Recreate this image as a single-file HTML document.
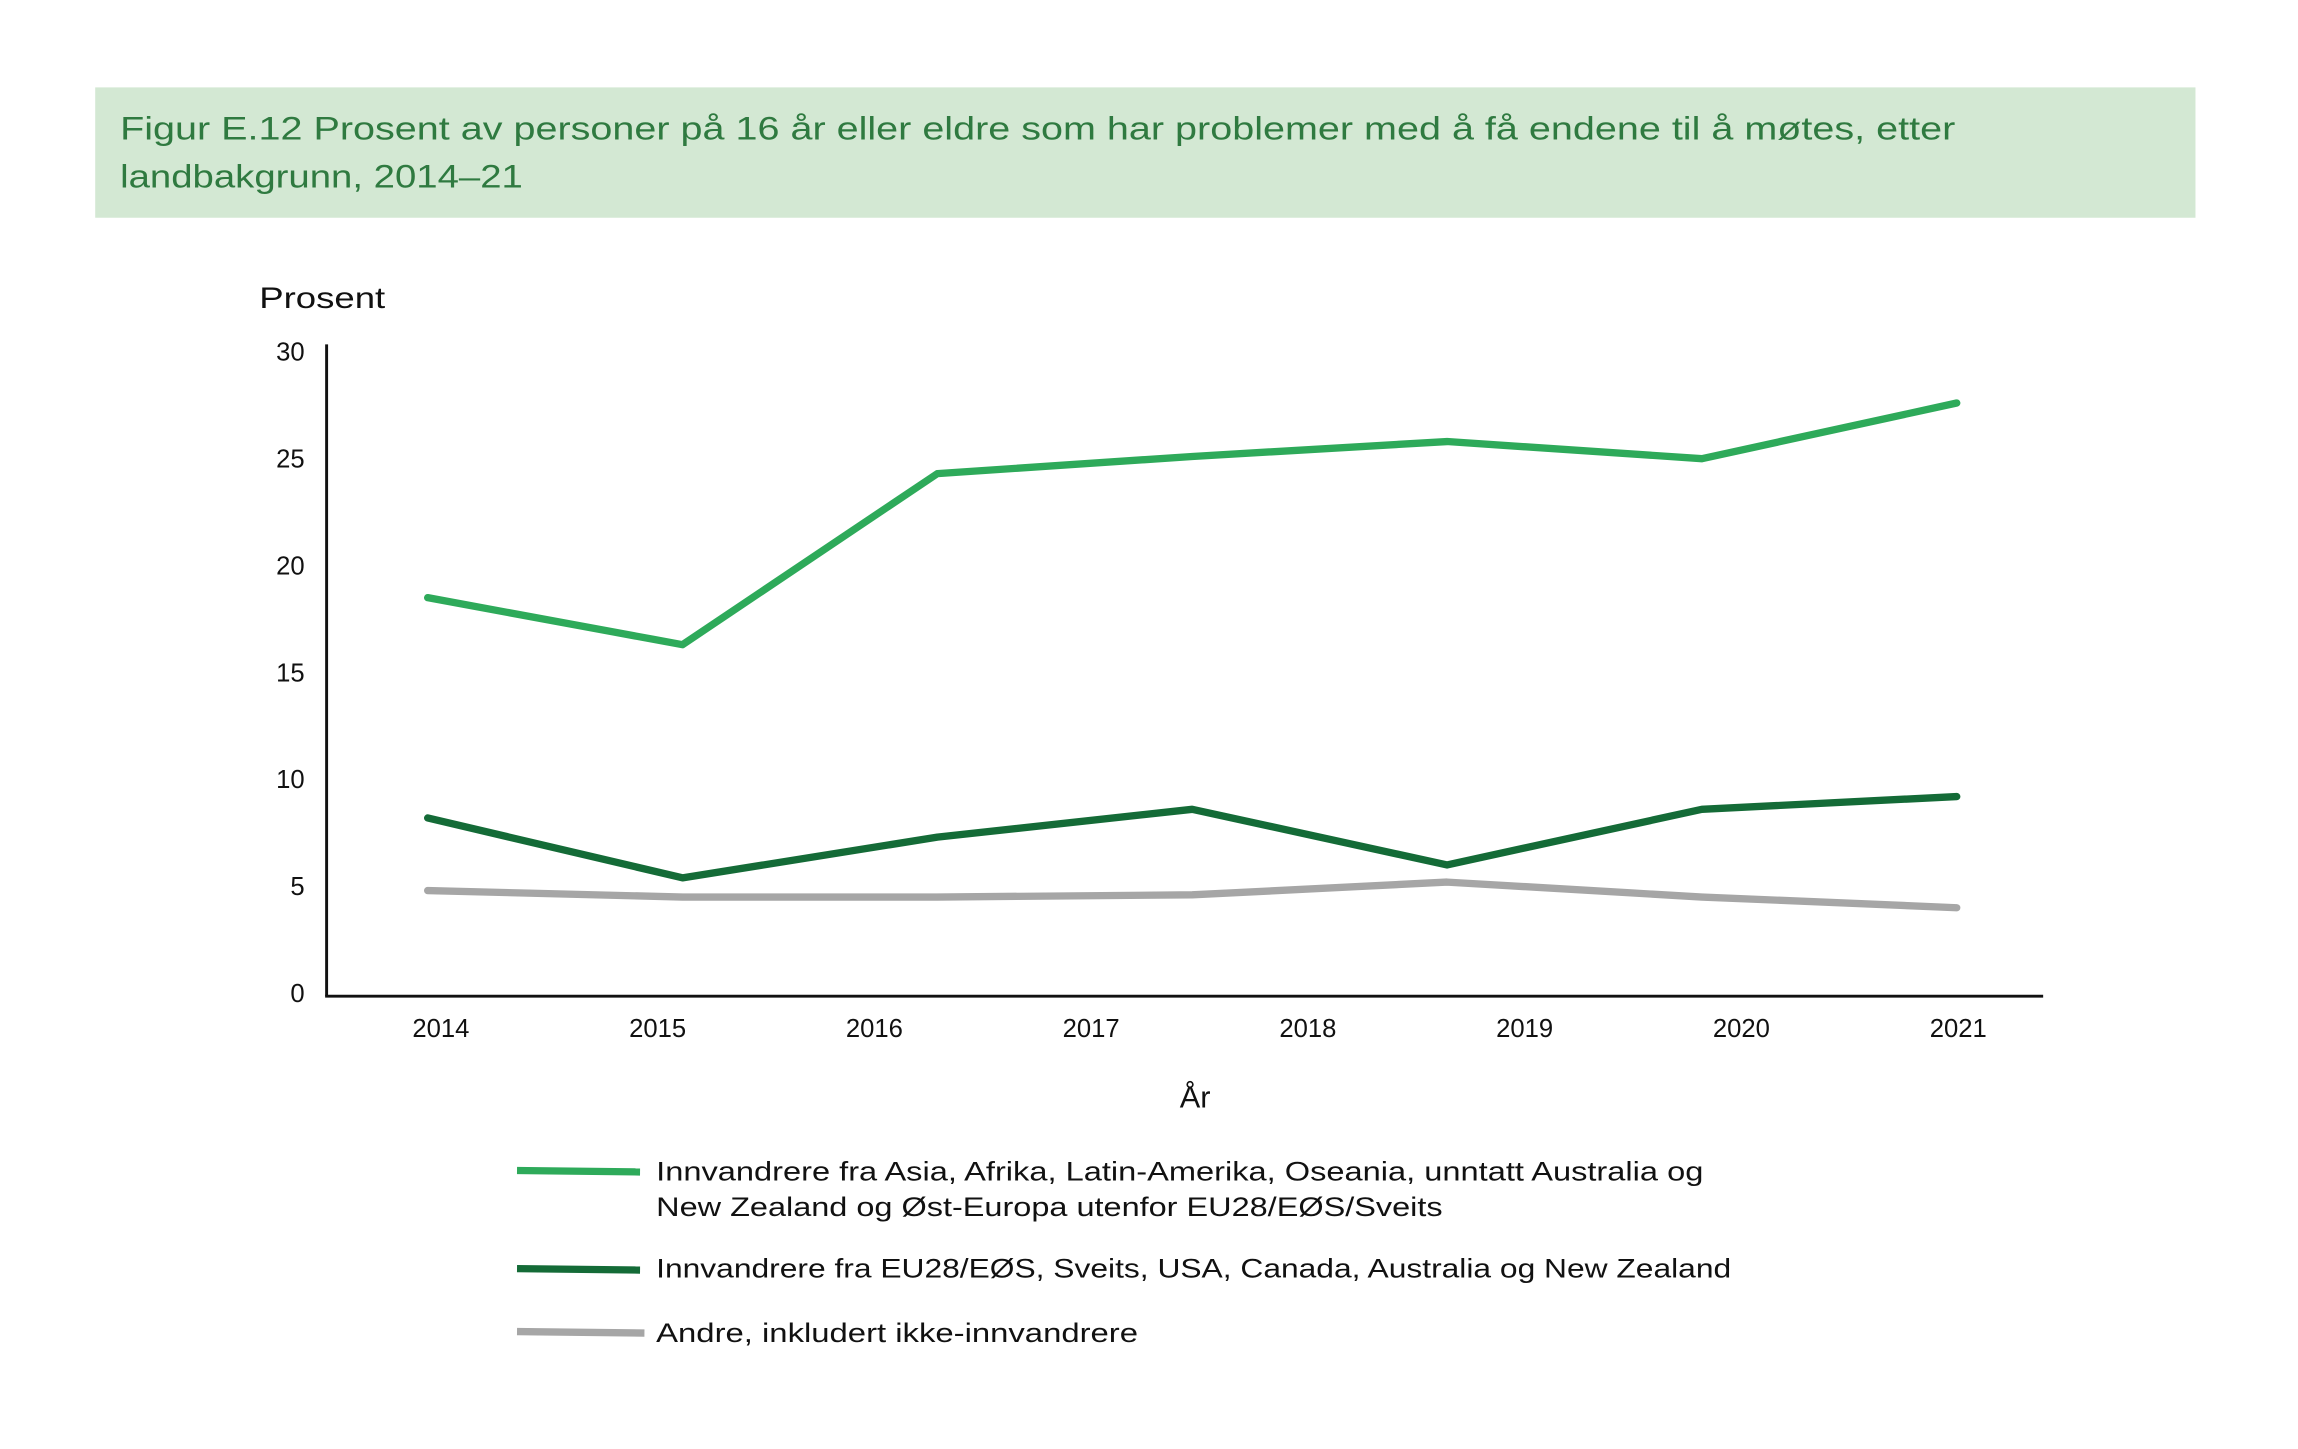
<!DOCTYPE html>
<html><head><meta charset="utf-8">
<style>
html,body{margin:0;padding:0;background:#fff;}
svg{display:block;font-family:"Liberation Sans",sans-serif;}
</style></head>
<body>
<svg id="chart" width="2298" height="1449" viewBox="0 0 1569 989" xmlns="http://www.w3.org/2000/svg">
<rect x="65" y="59.5" width="1434" height="89" fill="#d3e8d3"/>
<text fill="#2f7a40" font-size="22" x="82" y="95" textLength="1253" lengthAdjust="spacingAndGlyphs">Figur E.12 Prosent av personer på 16 år eller eldre som har problemer med å få endene til å møtes, etter</text>
<text fill="#2f7a40" font-size="22" x="82" y="128" textLength="275" lengthAdjust="spacingAndGlyphs">landbakgrunn, 2014–21</text>
<text x="177" y="210" font-size="20" fill="#111" textLength="86" lengthAdjust="spacingAndGlyphs">Prosent</text>
<text x="816" y="756" font-size="21" fill="#111" text-anchor="middle">År</text>
<g id="axes"></g>
<g id="series"></g>
<g id="legend">
 <line x1="353" y1="799" x2="437" y2="800" stroke="#2eaa5a" stroke-width="5"/>
 <text x="448" y="806" font-size="18.5" fill="#111" textLength="715" lengthAdjust="spacingAndGlyphs">Innvandrere fra Asia, Afrika, Latin-Amerika, Oseania, unntatt Australia og</text>
 <text x="448" y="830" font-size="18.5" fill="#111" textLength="537" lengthAdjust="spacingAndGlyphs">New Zealand og Øst-Europa utenfor EU28/EØS/Sveits</text>
 <line x1="353" y1="866" x2="437" y2="867" stroke="#146b37" stroke-width="5"/>
 <text x="448" y="872" font-size="18.5" fill="#111" textLength="734" lengthAdjust="spacingAndGlyphs">Innvandrere fra EU28/EØS, Sveits, USA, Canada, Australia og New Zealand</text>
 <line x1="353" y1="909" x2="440" y2="910" stroke="#a6a6a6" stroke-width="5"/>
 <text x="448" y="916" font-size="18.5" fill="#111" textLength="329" lengthAdjust="spacingAndGlyphs">Andre, inkludert ikke-innvandrere</text>
</g>
</svg>
<script>
const yearLabels = ["2014","2015","2016","2017","2018","2019","2020","2021"];
const yTicks = [0,5,10,15,20,25,30];
const seriesAsia = [18.5,16.3,24.3,25.1,25.8,25.0,27.6];
const seriesEU = [8.2,5.4,7.3,8.6,6.0,8.6,9.2];
const seriesAndre = [4.8,4.5,4.5,4.6,5.2,4.5,4.0];
const NS="http://www.w3.org/2000/svg";
const y = v => 678 - v*14.6;
const xLabel = i => 301 + i*148;
const xPt = (i,n) => 292 + i*(1336-292)/(n-1);
const axes=document.getElementById('axes'), ser=document.getElementById('series');
function mk(tag,attrs,parent){const e=document.createElementNS(NS,tag);for(const k in attrs)e.setAttribute(k,attrs[k]);parent.appendChild(e);return e;}
const ya=mk('line',{x1:223,y1:235,x2:223,y2:680,stroke:'#111','stroke-width':2},axes);


const xa=mk('line',{x1:222,y1:680,x2:1395,y2:680,stroke:'#111','stroke-width':2},axes);


yTicks.forEach(t=>{const e=mk('text',{x:208,y:y(t)+6,'font-size':17.5,fill:'#111','text-anchor':'end'},axes);e.textContent=t;

});
yearLabels.forEach((l,i)=>{const e=mk('text',{x:xLabel(i),y:708,'font-size':17.5,fill:'#111','text-anchor':'middle'},axes);e.textContent=l;

});
function line(vals,color,name){const p=vals.map((v,i)=>xPt(i,vals.length).toFixed(1)+','+y(v).toFixed(1)).join(' ');
const e=mk('polyline',{points:p,fill:'none',stroke:color,'stroke-width':5,'stroke-linejoin':'round','stroke-linecap':'round'},ser);

}
line(seriesAndre,'#a6a6a6','line-andre');
line(seriesEU,'#146b37','line-eu28');
line(seriesAsia,'#2eaa5a','line-asia-afrika');
</script>
</body></html>
